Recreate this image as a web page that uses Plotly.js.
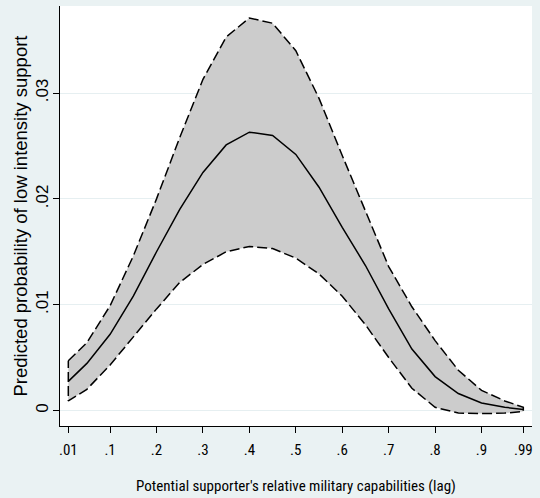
<!DOCTYPE html>
<html>
<head>
<meta charset="utf-8">
<script src="https://cdn.plot.ly/plotly-3.0.1.min.js"></script>
<style>
  html, body { margin: 0; padding: 0; background: #eaf2f3; }
  #chart { width: 540px; height: 498px; }
</style>
</head>
<body>
<div id="chart"></div>
<script>
// Potential supporter's relative military capabilities (lag)
const capability = [0.01, 0.05, 0.10, 0.15, 0.20, 0.25, 0.30, 0.35, 0.40, 0.45, 0.50,
                    0.55, 0.60, 0.65, 0.70, 0.75, 0.80, 0.85, 0.90, 0.95, 0.99];
// Predicted probability (point estimate)
const predicted = [0.00275, 0.00445, 0.0072, 0.0108, 0.0150, 0.0190, 0.0225, 0.0251, 0.0263, 0.0260, 0.0242,
                   0.0211, 0.0173, 0.0137, 0.0096, 0.0058, 0.0032, 0.0016, 0.0007, 0.0003, 0.0001];
// Upper confidence bound
const upperCI = [0.0047, 0.0064, 0.0099, 0.0146, 0.0200, 0.0258, 0.0313, 0.0353, 0.0371, 0.0366, 0.0340,
                 0.0295, 0.0241, 0.0189, 0.0136, 0.0098, 0.0066, 0.0038, 0.0019, 0.0009, 0.0003];
// Lower confidence bound
const lowerCI = [0.0009, 0.0020, 0.0043, 0.0070, 0.0096, 0.0121, 0.0138, 0.0150, 0.0155, 0.0153, 0.0144,
                 0.0129, 0.0108, 0.0081, 0.0050, 0.0021, 0.0003, -0.00025, -0.0003, -0.00025, -0.0001];

const xTickVals = [0.01, 0.1, 0.2, 0.3, 0.4, 0.5, 0.6, 0.7, 0.8, 0.9, 0.99];
const xTickText = ['.01', '.1', '.2', '.3', '.4', '.5', '.6', '.7', '.8', '.9', '.99'];
const yTickVals = [0, 0.01, 0.02, 0.03];
const yTickText = ['0', '.01', '.02', '.03'];

const narrowFont = 'Roboto Condensed, Liberation Sans, Arial, sans-serif';
const regularFont = 'Liberation Sans, Arial, sans-serif';

// closed outline of the confidence band: along the upper bound, then back along the lower bound
const bandX = capability.concat(capability.slice().reverse(), [capability[0]]);
const bandY = upperCI.concat(lowerCI.slice().reverse(), [upperCI[0]]);

const traces = [
  { x: capability, y: lowerCI, type: 'scatter', mode: 'lines',
    line: { width: 0, color: 'rgba(0,0,0,0)' }, hoverinfo: 'skip', showlegend: false },
  { x: capability, y: upperCI, type: 'scatter', mode: 'lines', fill: 'tonexty',
    fillcolor: '#cccccc', line: { width: 0, color: 'rgba(0,0,0,0)' }, hoverinfo: 'skip', showlegend: false },
  { x: bandX, y: bandY, type: 'scatter', mode: 'lines',
    line: { color: '#000000', width: 1.5, dash: '10px,4px' }, showlegend: false },
  { x: capability, y: predicted, type: 'scatter', mode: 'lines',
    line: { color: '#000000', width: 1.5 }, showlegend: false }
];

const layout = {
  width: 540, height: 498,
  paper_bgcolor: '#eaf2f3',
  plot_bgcolor: '#ffffff',
  margin: { l: 60, r: 8, t: 6, b: 72 },
  showlegend: false,
  xaxis: {
    range: [-0.0079, 1.0087],
    tickmode: 'array', tickvals: xTickVals, ticktext: xTickText,
    showgrid: false, zeroline: false,
    showline: true, linecolor: '#000000', linewidth: 1,
    ticks: 'outside', ticklen: 6, tickcolor: '#000000', tickwidth: 1,
    ticklabelstandoff: 4,
    tickfont: { family: narrowFont, size: 15, color: '#000000' },
    title: { text: "Potential supporter's relative military capabilities (lag)",
             font: { family: narrowFont, size: 15, color: '#000000' }, standoff: 22 },
    automargin: false
  },
  yaxis: {
    range: [-0.00147, 0.03823],
    tickmode: 'array', tickvals: yTickVals, ticktext: yTickText,
    tickangle: -90,
    showgrid: true, gridcolor: '#e6eff1', gridwidth: 1, zeroline: false,
    showline: true, linecolor: '#000000', linewidth: 1,
    ticks: 'outside', ticklen: 6, tickcolor: '#000000', tickwidth: 1,
    ticklabelstandoff: -2,
    tickfont: { family: regularFont, size: 17, color: '#000000' },
    title: { text: 'Predicted probability of low intensity support',
             font: { family: regularFont, size: 18.5, color: '#000000' }, standoff: 0 },
    automargin: false
  }
};

Plotly.newPlot('chart', traces, layout, { displayModeBar: false, staticPlot: true });
</script>
</body>
</html>
